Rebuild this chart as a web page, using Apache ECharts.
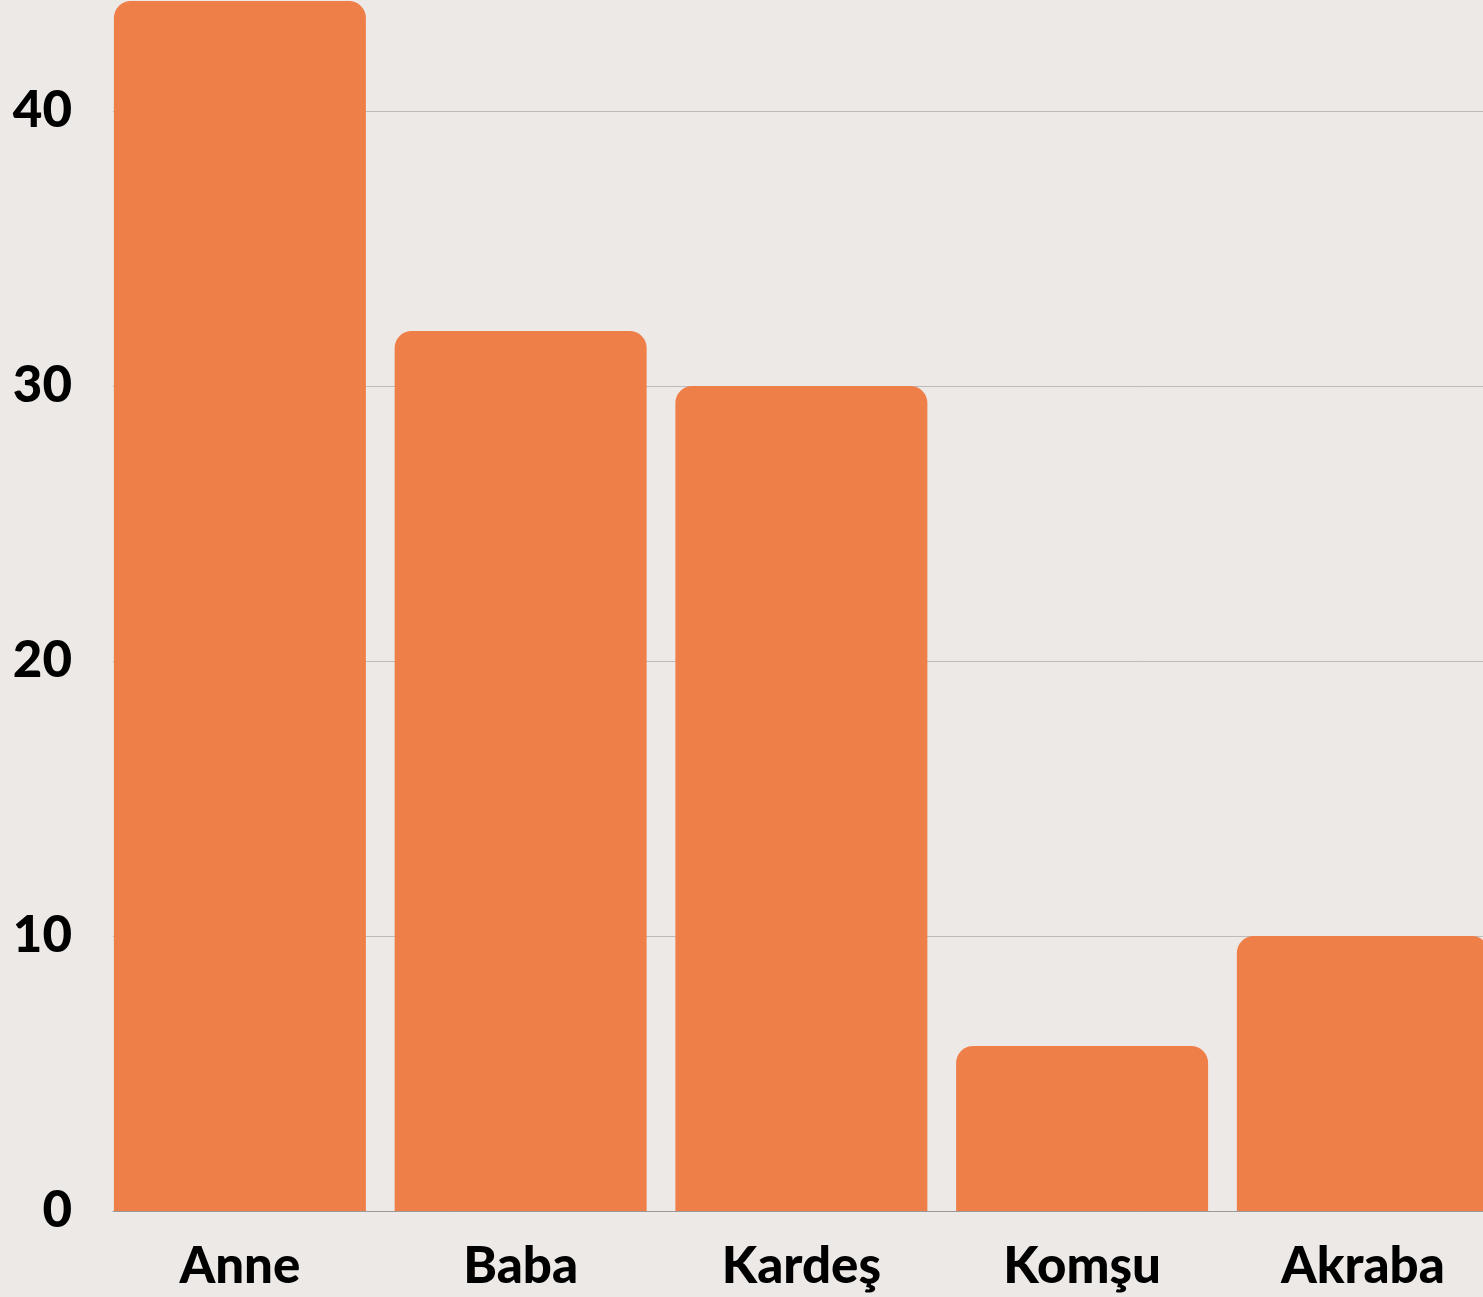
<!DOCTYPE html>
<html lang="tr">
<head>
<meta charset="UTF-8">
<title></title>
<style>
  html, body { margin: 0; padding: 0; background: #ede9e7; }
  #bars { width: 1483px; height: 1297px; }
</style>
</head>
<body>
<div id="bars"></div>
<script src="https://cdn.jsdelivr.net/npm/echarts@6/dist/echarts.min.js"></script>
<script>
var categories = ['Anne', 'Baba', 'Kardeş', 'Komşu', 'Akraba'];
var values = [44, 32, 30, 6, 10];
var yTicks = [0, 10, 20, 30, 40];

var chart = echarts.init(document.getElementById('bars'));

var seriesData = [];
for (var i = 0; i < values.length; i++) {
  seriesData.push([i, values[i]]);
}

var option = {
  backgroundColor: '#ede9e7',
  animation: false,
  grid: {
    left: 113,
    right: 0,
    top: 1,
    bottom: 86
  },
  xAxis: {
    type: 'value',
    min: -0.452,
    max: 4.428,
    splitLine: { show: false },
    axisTick: { show: false },
    axisLine: {
      show: true,
      lineStyle: { color: '#9a9a9a', width: 1 }
    },
    axisLabel: {
      customValues: [0, 1, 2, 3, 4],
      formatter: function (v) { return categories[Math.round(v)] || ''; },
      color: '#000',
      fontFamily: 'Lato',
      fontWeight: 900,
      fontSize: 51,
      margin: 30
    }
  },
  yAxis: {
    type: 'value',
    min: 0,
    max: 44,
    interval: 10,
    axisLine: { show: false },
    axisTick: { show: false },
    splitLine: {
      show: true,
      showMaxLine: false,
      lineStyle: { color: '#bdbbba', width: 1 }
    },
    axisLabel: {
      showMaxLabel: false,
      formatter: function (v) { return yTicks.indexOf(v) >= 0 ? String(v) : ''; },
      color: '#000',
      fontFamily: 'Lato',
      fontWeight: 900,
      fontSize: 51,
      margin: 41
    }
  },
  series: [{
    type: 'bar',
    data: seriesData,
    barWidth: 252,
    itemStyle: {
      color: '#ef7f48',
      borderRadius: [17, 17, 0, 0]
    }
  }]
};
chart.setOption(option);
</script>
</body>
</html>
